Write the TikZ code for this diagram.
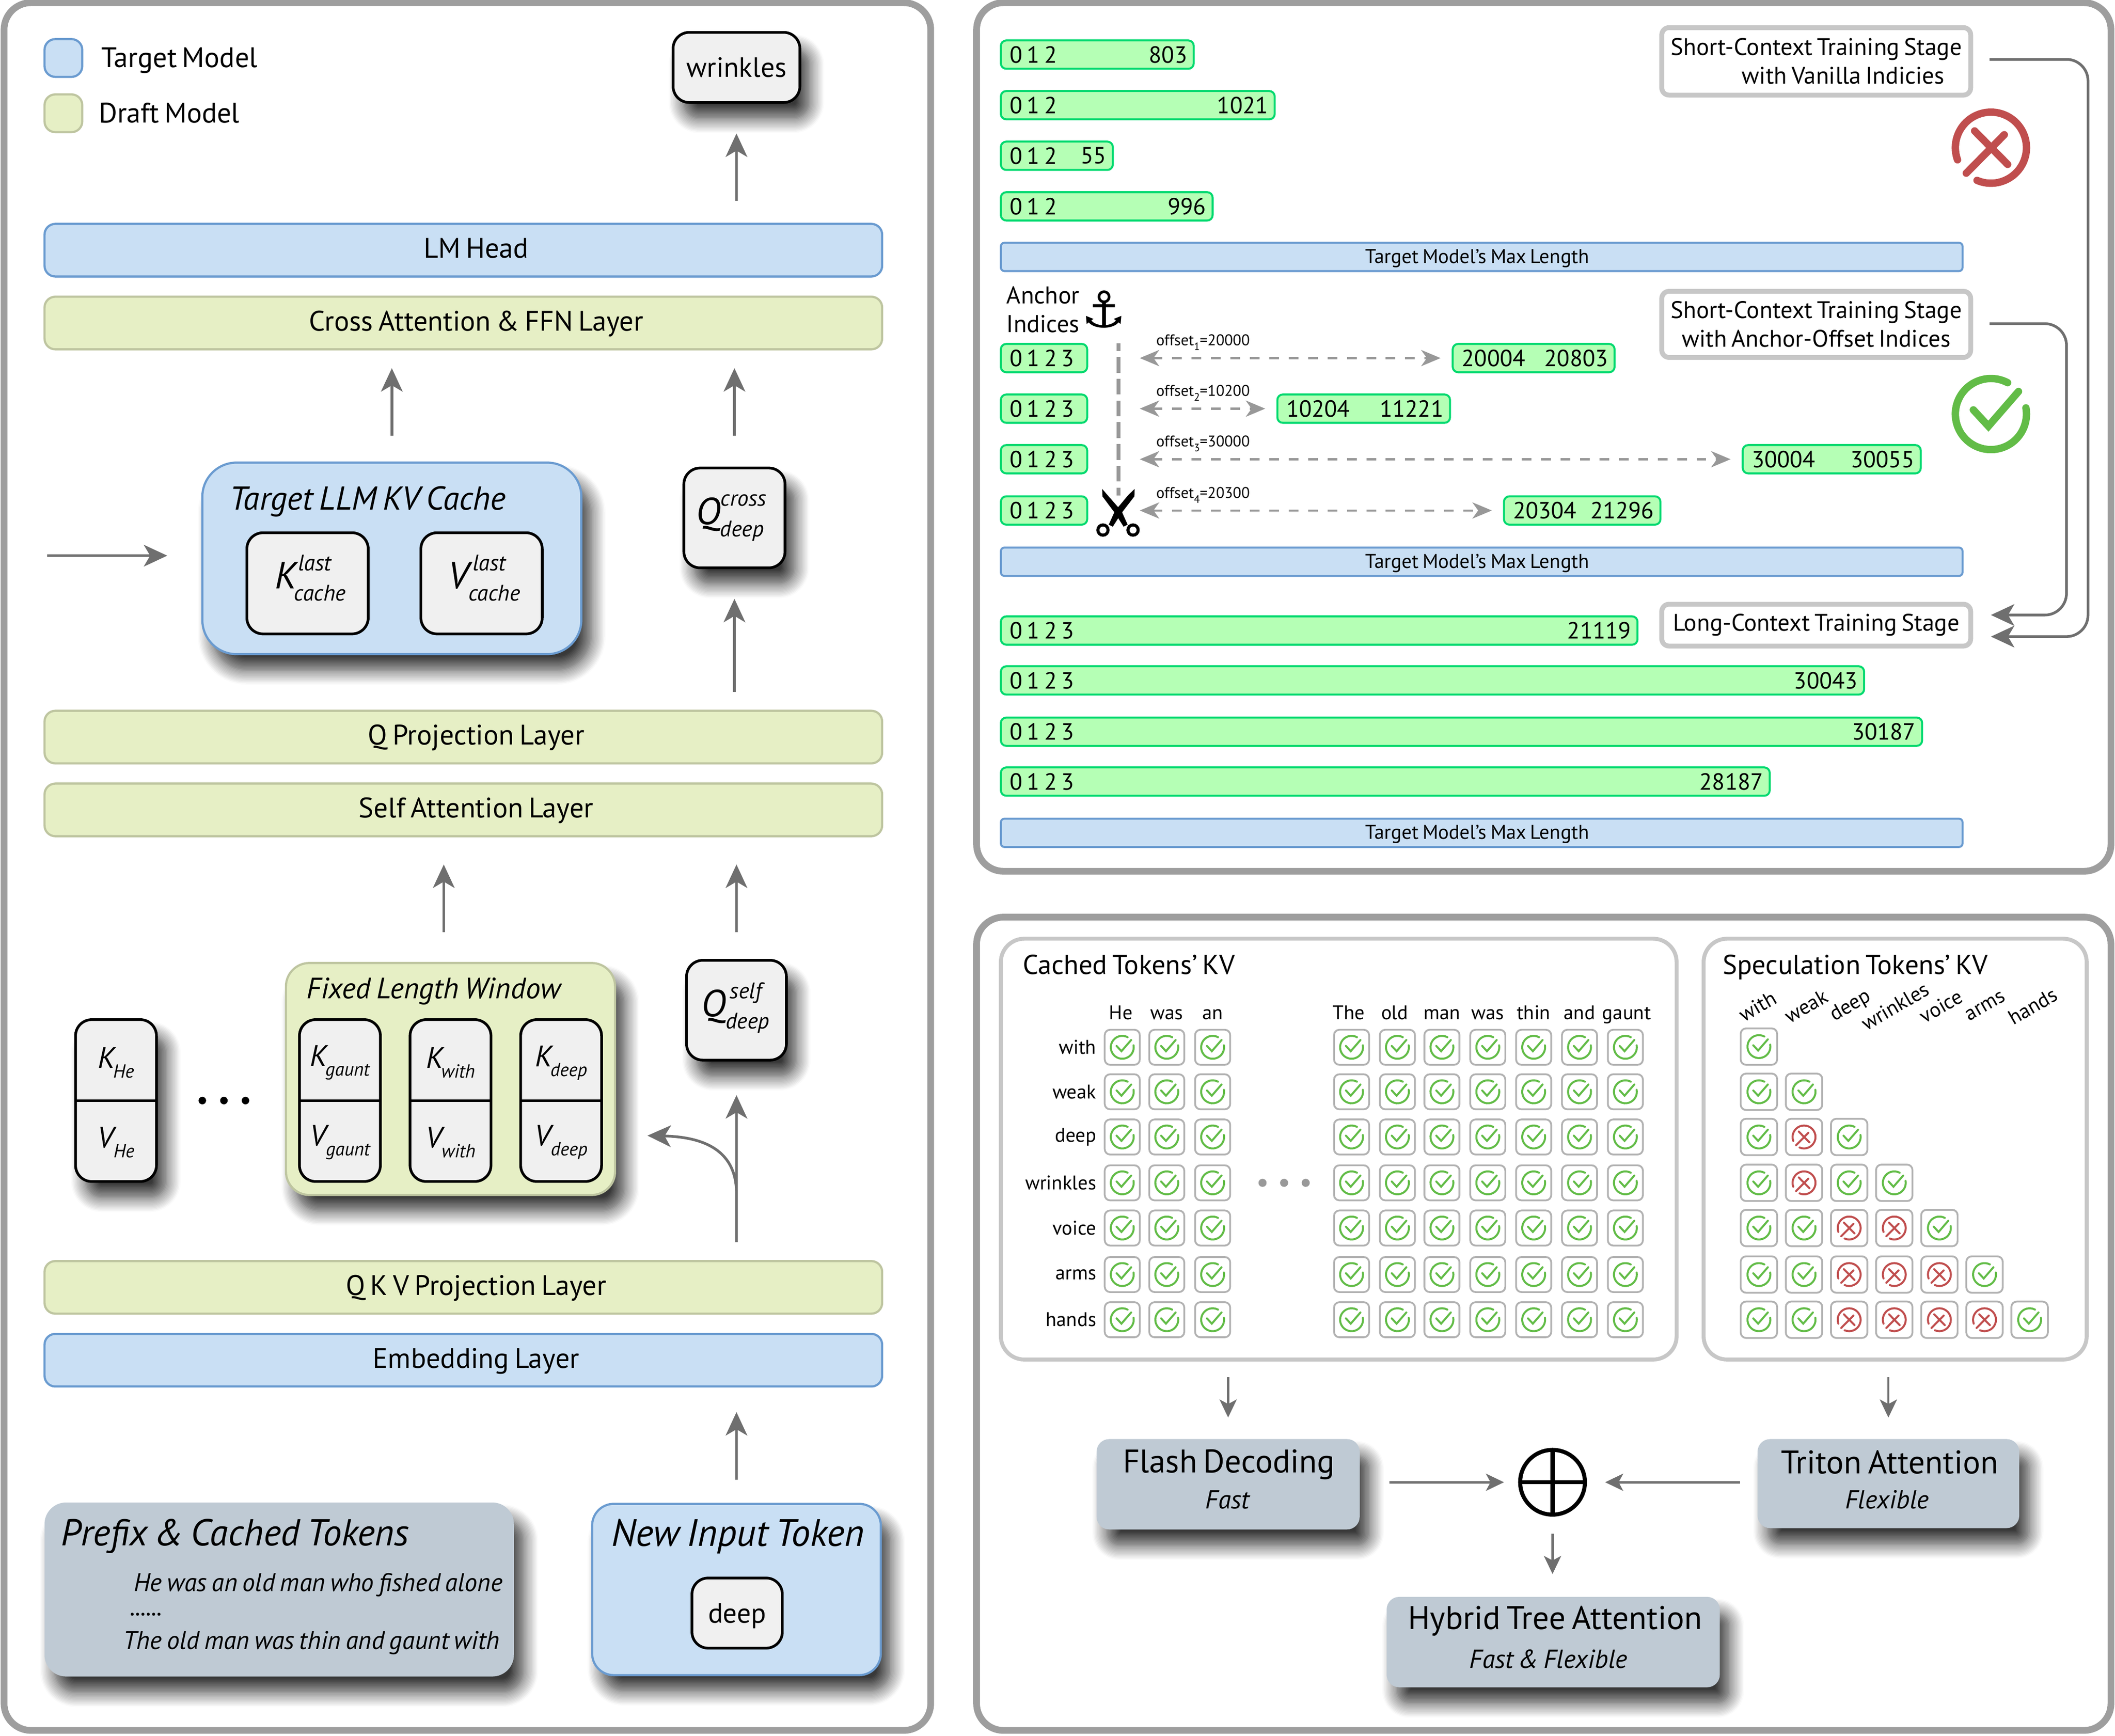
\documentclass[tikz,border=0pt]{standalone}
\usepackage{fontspec}
\setmainfont{PT Sans}[WordSpace=0.72]
\newfontfamily\symfont{DejaVu Sans}
\usetikzlibrary{arrows.meta,shadows.blur}

\definecolor{targetblue}{HTML}{C9DFF4}
\definecolor{targetline}{HTML}{6A9BD0}
\definecolor{draftgreen}{HTML}{E6EFC5}
\definecolor{draftline}{HTML}{BEC5A0}
\definecolor{slategrey}{HTML}{BFCAD4}
\definecolor{keyfill}{HTML}{F0F0F0}
\definecolor{barfill}{HTML}{B5FFB5}
\definecolor{barline}{HTML}{00D96F}
\definecolor{flowgrey}{HTML}{6F6F6F}
\definecolor{dashgrey}{HTML}{989898}
\definecolor{okgreen}{HTML}{62BC47}
\definecolor{nored}{HTML}{C04E4E}

\newcommand{\kvtext}[4][12.5]{\hspace*{3pt}\textit{#2}\rlap{\raisebox{.48em}{\fontsize{#1}{#1}\selectfont\itshape #3}}\kern-.11em\raisebox{-.33em}{\fontsize{#1}{#1}\selectfont\itshape #4}}

\tikzset{
  wh/.style 2 args={minimum width=#1*0.75pt,minimum height=#2*0.75pt,inner sep=0pt,outer sep=0pt},
  panel/.style={draw=black!38,line width=3.75pt,rounded corners=15pt},
  layerblue/.style={draw=targetline,fill=targetblue,line width=1.2pt,rounded corners=6pt,font=\fontsize{15.7}{18}\selectfont,text height=0.86em,text depth=0pt},
  layergreen/.style={draw=draftline,fill=draftgreen,line width=1.2pt,rounded corners=6pt,font=\fontsize{15.7}{18}\selectfont,text height=0.86em,text depth=0pt},
  midtext/.style={execute at begin node={\hspace*{14.25pt}}},
  softshadow/.style={blur shadow={shadow xshift=5.5pt,shadow yshift=-9pt,shadow blur radius=8pt,shadow blur steps=12,shadow opacity=78}},
  keybox/.style={draw=black,fill=keyfill,line width=1.5pt,rounded corners=9pt,font=\fontsize{21}{24}\selectfont},
  kvsized/.style={text height=#1,text depth=0.2em},
  flow/.style={draw=flowgrey,line width=1.5pt,-{Stealth[length=13pt,width=12pt,inset=3.5pt]}},
  flowsmall/.style={flow,line width=1.3pt,-{Stealth[length=10pt,width=9.5pt,inset=2.5pt]}},
  gaps/.style 2 args={shorten <=#1*0.75pt,shorten >=#2*0.75pt},
  lenbar/.style={draw=barline,fill=barfill,line width=1.1pt,rounded corners=3pt,minimum height=15.75pt,inner sep=0pt,outer sep=0pt},
  bartext/.style={inner sep=0pt,font=\fontsize{13}{15}\selectfont},
  maxbar/.style={draw=targetline,fill=targetblue,line width=1.1pt,rounded corners=2pt,font=\fontsize{11.1}{12}\selectfont,text height=0.7em,text depth=0pt,execute at begin node={\hspace*{-5pt}}},
  stagebox/.style={draw=black!22,line width=2.7pt,rounded corners=4pt,fill=white,align=center,font=\fontsize{13.3}{16}\selectfont},
  offsetlab/.style={anchor=west,inner sep=0pt,font=\fontsize{8.6}{9}\selectfont},
  offsetarrow/.style={draw=dashgrey,line width=1.2pt,dash pattern=on 5.4pt off 5.4pt,{Stealth[length=10.8pt,width=9pt,inset=3.2pt]}-{Stealth[length=10.8pt,width=9pt,inset=3.2pt]}},
  cell/.style={draw=black!30,line width=1pt,rounded corners=3pt,fill=white,wh={26}{26}},
  tablehead/.style={inner sep=0pt,font=\fontsize{11}{13}\selectfont},
  tablebox/.style={draw=black!22,line width=2.2pt,rounded corners=13pt,fill=white},
  tick/.pic={
    \draw[okgreen,line cap=round] (62:8.5) arc[start angle=62,end angle=370,radius=8.5];
    \draw[okgreen,line cap=round] (-4.2,1) -- (-0.6,-2.9) -- (6.6,5.4);
  },
  nay/.pic={
    \draw[nored,line cap=round] (247:8.5) arc[start angle=247,end angle=560,radius=8.5];
    \draw[nored,line cap=round] (-3.9,4) -- (4,-4);
    \draw[nored,line cap=round] (3.2,3.1) -- (-5.9,-6.1);
  },
}

\begin{document}
\begin{tikzpicture}[x=0.75pt,y=0.75pt,yscale=-1,xscale=1]
\useasboundingbox (0,0) rectangle (1568,1286.8);

% Panels
\node[panel,wh={687}{1281},anchor=north west] (leftpanel) at (3,2) {};
\node[panel,wh={841}{644},anchor=north west] (toppanel) at (724,2) {};
\node[panel,wh={841}{603},anchor=north west] (botpanel) at (724,680) {};

% Legend
\node[layerblue,wh={28}{28},anchor=north west] (legblue) at (33,29) {};
\node[layergreen,wh={28}{28},anchor=north west] (leggreen) at (33,70) {};
\node[anchor=base west,inner sep=0pt,font=\fontsize{15.7}{18}\selectfont] (legbluetxt) at (75,50) {Target Model};
\node[anchor=base west,inner sep=0pt,font=\fontsize{15.7}{18}\selectfont] (leggreentxt) at (73,91) {Draft Model};

% Upper layers
\node[keybox,softshadow,wh={94}{52},anchor=north west,font=\fontsize{15.5}{18}\selectfont] (wrinkles) at (499,24) {wrinkles};
\node[layerblue,midtext,wh={621}{39},anchor=north west] (lmhead) at (33,166) {LM Head};
\node[layergreen,midtext,wh={621}{39},anchor=north west] (crossffn) at (33,220) {Cross Attention \& FFN Layer};

% Cache
\node[layerblue,softshadow,wh={281}{142},anchor=north west,rounded corners=19pt] (target) at (150,343) {};
\node[anchor=west,inner sep=0pt,font=\fontsize{18.4}{20}\selectfont\itshape] (targettitle) at (170,372) {Target LLM KV Cache};
\node[keybox,kvsized=0.78em,wh={90}{75},anchor=north west] (kcache) at (183,395) {\kvtext{K}{last}{cache}};
\node[keybox,kvsized=0.78em,wh={90}{75},anchor=north west] (vcache) at (312,395) {\kvtext{V}{last}{cache}};
\node[keybox,kvsized=0.9em,softshadow,wh={75}{74},anchor=north west] (qcross) at (507,347) {\hspace*{-8pt}\kvtext{Q}{cross}{\kern2pt deep}};

% Middle layers
\node[layergreen,midtext,wh={621}{39},anchor=north west] (qproj) at (33,527) {Q Projection Layer};
\node[layergreen,midtext,wh={621}{39},anchor=north west] (selfattn) at (33,581) {Self Attention Layer};

% Window
\node[layergreen,softshadow,wh={244}{172},anchor=north west,rounded corners=13pt] (window) at (212,714) {};
\node[anchor=west,inner sep=0pt,font=\fontsize{16.4}{18}\selectfont\itshape] (windowtitle) at (227,735) {Fixed Length Window};
\foreach \kvid/\kvx/\kvsub in {he/56/He,gaunt/222/gaunt,with/304/with,deep/386/deep}{
  \ifnum\kvx=56
    \node[keybox,softshadow,wh={60}{120},anchor=north west] (\kvid) at (\kvx,756) {};
  \else
    \node[keybox,wh={60}{120},anchor=north west] (\kvid) at (\kvx,756) {};
  \fi
  \draw[black,line width=1.3pt] (\kvid.west) -- (\kvid.east);
  \node[inner sep=0pt,font=\fontsize{16.5}{18}\selectfont] (\kvid-k) at (\kvx+28,788) {\kvtext[10.5]{K}{}{\kvsub}};
  \node[inner sep=0pt,font=\fontsize{16.5}{18}\selectfont] (\kvid-v) at (\kvx+28,847) {\kvtext[10.5]{V}{}{\kvsub}};
}
\foreach \dotx in {150,166,182}
  \fill[black] (\dotx,816) circle[radius=2.8];
\node[keybox,kvsized=0.9em,softshadow,wh={74}{74},anchor=north west] (qself) at (509,712) {\hspace*{-4pt}\kvtext{Q}{\kern2pt self}{\kern2pt deep}};

% Lower layers
\node[layergreen,midtext,wh={621}{39},anchor=north west] (qkv) at (33,935) {Q K V Projection Layer};
\node[layerblue,midtext,wh={621}{39},anchor=north west] (embed) at (33,989) {Embedding Layer};

% Inputs
\node[draw=none,fill=slategrey,softshadow,wh={348}{129},anchor=north west,rounded corners=12pt] (prefix) at (33,1114) {};
\node[anchor=west,inner sep=0pt,font=\fontsize{20.8}{24}\selectfont\itshape] (prefixtitle) at (45,1139) {Prefix \& Cached Tokens};
\node[anchor=west,inner sep=0pt,font=\fontsize{14.2}{16}\selectfont\itshape] (prefixa) at (99,1175) {He was an old man who fished alone};
\node[anchor=west,inner sep=0pt,font=\fontsize{14.2}{16}\selectfont\itshape] (prefixb) at (96,1197) {......};
\node[anchor=west,inner sep=0pt,font=\fontsize{14.2}{16}\selectfont\itshape] (prefixc) at (91,1218) {The old man was thin and gaunt with};
\node[layerblue,softshadow,wh={214}{127},anchor=north west,rounded corners=12pt] (newinput) at (439,1115) {};
\node[inner sep=0pt,font=\fontsize{21.2}{24}\selectfont\itshape] (newtitle) at (547,1139) {New Input Token};
\node[keybox,wh={67}{52},anchor=north west,font=\fontsize{15.5}{18}\selectfont,text depth=0pt] (deepin) at (513,1170) {deep};

% Left arrows
\coordinate (cachein) at (35,412);
\coordinate (qsplit) at (546,921);
\coordinate (qbend) at (546,885);
\coordinate (winin) at (480,842);
\coordinate (winup) at (329,714);
\coordinate (selfup) at (329,620);
\draw[flow,gaps={17}{23}] (wrinkles.south |- lmhead.north) -- (wrinkles.south);
\draw[flow,gaps={20}{14}] (target.north) -- (target.north |- crossffn.south);
\draw[flow,gaps={24}{14}] (qcross.north) -- (qcross.north |- crossffn.south);
\draw[flow,gaps={14}{23}] (qcross.south |- qproj.north) -- (qcross.south);
\draw[flow,gaps={0}{26}] (cachein) -- (target.west |- cachein);
\draw[flow,gaps={23}{21}] (winup) -- (selfup);
\draw[flow,gaps={21}{21}] (qself.north) -- (qself.north |- selfattn.south);
\draw[flow,gaps={14}{26}] (qself.south |- qkv.north) -- (qself.south);
\draw[flow] (qsplit) -- (qbend) .. controls (546,855) and (525,843) .. (winin);
\draw[flow,gaps={18}{19}] (newinput.north) -- (newinput.north |- embed.south);

% Vanilla stage
\foreach \barid/\xa/\xb/\yc/\lft/\rgt in {
  va/742/885/40.5/0 1 2/803,vb/742/945/78/0 1 2/1021,vc/742/825/115.5/0 1 2/55,vd/742/899/153/0 1 2/996,
  aa/742/806/265.5/0 1 2 3/,ab/742/806/303/0 1 2 3/,ac/742/806/340.5/0 1 2 3/,ad/742/806/378.5/0 1 2 3/,
  oa/1077/1197/265.5/20004/20803,ob/947/1075/303/10204/11221,oc/1292/1424/340.5/30004/30055,od/1115/1231/378.5/20304/21296,
  la/742/1214/467.5/0 1 2 3/21119,lb/742/1382/504.5/0 1 2 3/30043,lc/742/1425/542.5/0 1 2 3/30187,ld/742/1312/579.5/0 1 2 3/28187}{
  \pgfmathsetmacro\barw{\xb-\xa}
  \node[lenbar,anchor=west,minimum width=\barw*0.75pt] (\barid) at (\xa,\yc) {};
  \node[bartext,anchor=west] (\barid-l) at ([xshift=4.8pt]\barid.west) {\lft};
  \node[bartext,anchor=east] (\barid-r) at ([xshift=-3.4pt]\barid.east) {\rgt};
}
\foreach \maxid/\ytop in {maxa/180,maxb/406,maxc/607}
  \node[maxbar,wh={713}{21},anchor=north west] (\maxid) at (742,\ytop) {Target Model's Max Length};

% Stage labels
\node[stagebox,wh={229}{50},anchor=north west] (stagevan) at (1232,20.5) {Short-Context Training Stage\\\hspace*{30pt}with Vanilla Indicies};
\node[stagebox,wh={229}{49},anchor=north west] (stageanc) at (1232,216) {Short-Context Training Stage\\with Anchor-Offset Indices};
\node[stagebox,wh={229}{31},anchor=north west] (stagelong) at (1232,448) {Long-Context Training Stage};
\pic[scale=3.1,line width=4.1pt] at (1476,109.5) {nay};
\pic[scale=3.1,line width=4.1pt] at (1476,307) {tick};
\coordinate (vanbend) at (1548,44);
\coordinate (ancbend) at (1532,240);
\draw[flow,rounded corners=12pt,gaps={14}{15}] (stagevan.east |- vanbend) -- (vanbend) -- (vanbend |- 0,472) -- (stagelong.east |- 0,472);
\draw[flow,rounded corners=12pt,gaps={14}{15}] (stageanc.east |- ancbend) -- (ancbend) -- (ancbend |- 0,456) -- (stagelong.east |- 0,456);

% Anchor and offsets
\node[anchor=west,inner sep=0pt,align=left,font=\fontsize{13.5}{16}\selectfont] (anchortxt) at (746,229.5) {Anchor\\Indices};
\node[inner sep=0pt,font=\symfont\fontsize{28}{30}\selectfont] (anchorsym) at (818.3,229.3) {⚓};
\coordinate (anchortop) at (829.2,254.4);
\coordinate (scissortop) at (829.2,367.4);
\draw[dashgrey,line width=2.25pt,dash pattern=on 8.8pt off 3.3pt,dash phase=4.4pt] (anchortop) -- (scissortop);
\fill[black] (817.1,362.5) -- (821,367) -- (831.5,379) -- (836,389) -- (833,390.5) -- (827,381) -- (817.3,368) -- cycle;
\fill[black] (841.2,362.5) -- (841,368) -- (831,381) -- (825,390.5) -- (822,389) -- (826.5,379) -- (836.5,367) -- cycle;
\draw[black,line width=1.7pt] (817.7,393) circle[radius=3.8];
\draw[black,line width=1.7pt] (840,393) circle[radius=3.8];
\foreach \offid/\offn/\offv/\yc in {oa/1/20000/265.5,ob/2/10200/303,oc/3/30000/340.5,od/4/20300/378.5}{
  \coordinate (anch-\offid) at (845,\yc);
  \draw[offsetarrow,gaps={0}{9}] (anch-\offid) -- (\offid.west);
  \node[offsetlab] (lab-\offid) at (857,\yc-11.5) {offset\raisebox{-.32em}{\fontsize{6}{6}\selectfont\offn}=\offv};
}

% Cached table
\node[tablebox,wh={501}{312},anchor=north west] (cached) at (742,696) {};
\node[anchor=base west,inner sep=0pt,font=\fontsize{15.2}{17}\selectfont] (cachedtitle) at (758,722.5) {Cached Tokens' KV};
\foreach \hx/\htxt in {831/He,865/was,899/an,1000/The,1034/old,1069/man,1103/was,1137/thin,1171/and,1206/gaunt}
  \node[tablehead,anchor=base] (ch-\hx) at (\hx,756) {\htxt};
\foreach \ry/\rtxt in {776.5/with,809.5/weak,843/deep,877/wrinkles,910.5/voice,945/arms,978.5/hands}{
  \node[tablehead,anchor=east] (rh-\rtxt) at (813,\ry) {\rtxt};
  \foreach \cx in {832,865,899,1002,1036,1069,1103,1137,1171,1205}{
    \node[cell] (cc-\rtxt-\cx) at (\cx,\ry) {};
    \pic[line width=1.1pt] at (cc-\rtxt-\cx) {tick};
  }
}
\foreach \dotx in {936,952,968}
  \fill[black!40] (\dotx,877) circle[radius=3];

% Speculation table
\node[tablebox,wh={284}{312},anchor=north west] (spec) at (1263,696) {};
\node[anchor=base west,inner sep=0pt,font=\fontsize{15.2}{17}\selectfont] (spectitle) at (1277,722.5) {Speculation Tokens' KV};
\foreach \hx/\htxt in {1303/with,1339/weak,1372/deep,1405/wrinkles,1439/voice,1472/arms,1507/hands}
  \node[tablehead,rotate=30,font=\fontsize{11.5}{13}\selectfont] (sh-\htxt) at (\hx,746) {\htxt};
\foreach \rid/\ry/\marks in {
  a/776/{tick},
  b/809.5/{tick,tick},
  c/843/{tick,nay,tick},
  d/877/{tick,nay,tick,tick},
  e/910.5/{tick,tick,nay,nay,tick},
  f/945/{tick,tick,nay,nay,nay,tick},
  g/978.5/{tick,tick,nay,nay,nay,nay,tick}}{
  \foreach \mk [count=\k] in \marks {
    \pgfmathsetmacro\cx{1304+(\k-1)*33.45}
    \node[cell,wh={27}{27}] (sc-\rid-\k) at (\cx,\ry) {};
    \pic[line width=1.1pt] at (sc-\rid-\k) {\mk};
  }
}

% Result boxes
\node[fill=slategrey,softshadow,wh={195}{67},anchor=north west,rounded corners=7pt] (flash) at (813,1067) {};
\node[inner sep=0pt,font=\fontsize{18.2}{21}\selectfont] (flashname) at (911,1086) {Flash Decoding};
\node[inner sep=0pt,font=\fontsize{14.5}{17}\selectfont\itshape] (flashtag) at (910,1112) {Fast};
\node[fill=slategrey,softshadow,wh={194}{66},anchor=north west,rounded corners=7pt] (triton) at (1303,1067) {};
\node[inner sep=0pt,font=\fontsize{18.2}{21}\selectfont] (tritonname) at (1401,1084) {Triton Attention};
\node[inner sep=0pt,font=\fontsize{14.5}{17}\selectfont\itshape] (tritontag) at (1399,1112) {Flexible};
\node[fill=slategrey,softshadow,wh={247}{67},anchor=north west,rounded corners=7pt] (hybrid) at (1028,1184) {};
\node[inner sep=0pt,font=\fontsize{18.2}{21}\selectfont] (hybridname) at (1153,1202) {Hybrid Tree Attention};
\node[inner sep=0pt,font=\fontsize{14.5}{17}\selectfont\itshape] (hybridtag) at (1148,1230) {Fast \& Flexible};
\node[circle,draw=black,line width=2.25pt,wh={48}{48}] (oplus) at (1151,1099) {};
\draw[black,line width=2.25pt] (oplus.north) -- (oplus.south);
\draw[black,line width=2.25pt] (oplus.west) -- (oplus.east);

% Result arrows
\draw[flowsmall,gaps={13}{16}] (flash.north |- cached.south) -- (flash.north);
\draw[flowsmall,gaps={13}{16}] (triton.north |- spec.south) -- (triton.north);
\draw[flowsmall,gaps={22}{12}] (flash.east |- oplus.west) -- (oplus.west);
\draw[flowsmall,gaps={13}{15}] (triton.west |- oplus.east) -- (oplus.east);
\draw[flowsmall,gaps={14}{17}] (oplus.south) -- (oplus.south |- hybrid.north);
\end{tikzpicture}
\end{document}
